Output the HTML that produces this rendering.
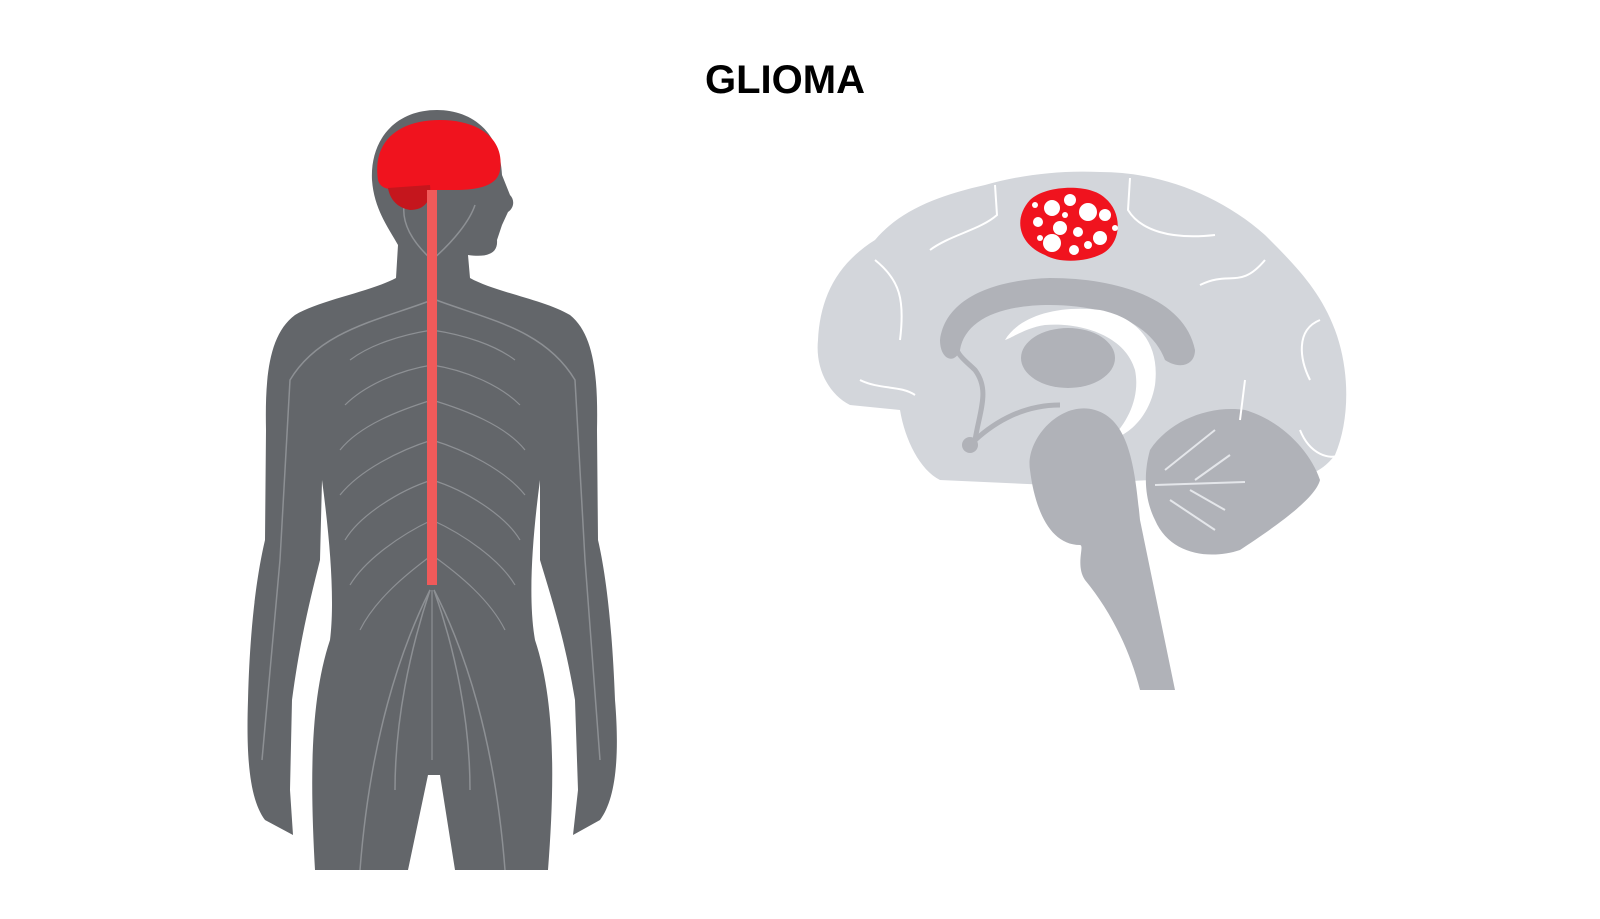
<!DOCTYPE html>
<html><head><meta charset="utf-8"><style>
html,body{margin:0;padding:0;background:#fff;width:1600px;height:919px;overflow:hidden}
svg{display:block}
</style></head><body>
<svg width="1600" height="919" viewBox="0 0 1600 919" xmlns="http://www.w3.org/2000/svg">
<text x="785" y="93" text-anchor="middle" font-family="Liberation Sans, sans-serif" font-weight="bold" font-size="40" fill="#000">GLIOMA</text>

<!-- Body -->
<path fill="#63666a" d="M437,110 C395,110 370,140 372,180 C374,210 390,230 398,245 L396,278 C370,292 320,300 295,315 C268,335 265,380 266,430 L265,540 C258,570 250,620 248,700 C246,760 250,800 265,820 L293,835 L290,790 L292,700 C300,640 310,600 320,560 L322,480 C330,540 335,600 330,640 C310,700 310,780 315,870 L408,870 L428,775 L440,775 L455,870 L548,870 C555,780 555,700 535,640 C528,600 532,540 540,480 L540,560 C552,600 565,640 575,700 L578,790 L573,835 L600,820 C615,800 620,760 615,700 C612,620 605,570 598,540 L597,430 C598,380 595,335 570,315 C545,300 495,292 470,278 L468,255 C490,258 498,252 497,240 L502,225 L508,212 C514,208 515,200 510,195 L502,175 C500,130 470,110 437,110 Z"/>
<!-- nerves -->
<g stroke="#8d9094" stroke-width="1.5" fill="none">
<path d="M432,300 C380,320 320,330 290,380 L280,560 L262,760"/>
<path d="M436,300 C490,320 545,330 575,380 L585,560 L600,760"/>
<path d="M430,590 C400,650 370,740 360,870"/>
<path d="M434,590 C465,650 495,740 505,870"/>
<path d="M430,590 C410,650 395,720 395,790"/>
<path d="M434,590 C455,650 470,720 470,790"/>
<path d="M432,260 C410,240 400,220 405,200"/>
<path d="M432,260 C455,240 470,220 475,205"/>
</g>
<g stroke="#8d9094" stroke-width="1.2" fill="none">
<path d="M432,330 C400,335 370,345 350,360"/><path d="M432,330 C465,335 495,345 515,360"/>
<path d="M432,365 C400,370 365,385 345,405"/><path d="M432,365 C465,370 500,385 520,405"/>
<path d="M432,400 C400,410 360,425 340,450"/><path d="M432,400 C465,410 505,425 525,450"/>
<path d="M432,440 C400,450 360,470 340,495"/><path d="M432,440 C465,450 505,470 525,495"/>
<path d="M432,480 C400,490 360,515 345,540"/><path d="M432,480 C465,490 505,515 520,540"/>
<path d="M432,520 C400,535 365,560 350,585"/><path d="M432,520 C465,535 500,560 515,585"/>
<path d="M432,555 C405,575 375,600 360,630"/><path d="M432,555 C460,575 490,600 505,630"/>
<path d="M432,590 L432,760"/>
</g>
<!-- brain red -->
<path fill="#f0131e" d="M378,180 C372,140 400,120 440,120 C480,120 505,140 500,170 C498,185 480,190 455,190 L400,190 C388,190 380,188 378,180 Z"/>
<path fill="#c5161d" d="M388,188 L430,185 C432,200 425,210 410,210 C398,208 390,200 388,188 Z"/>
<rect x="427" y="190" width="10" height="395" fill="#f05a5a"/>

<!-- Right brain -->
<path fill="#d3d6db" d="M875,240 C900,210 940,195 985,185 C1020,175 1060,170 1100,172 C1160,172 1220,195 1265,235 C1295,265 1320,290 1335,330 C1350,370 1350,420 1335,455 C1320,475 1300,478 1290,480 L1160,480 C1130,480 1090,485 1050,485 L940,480 C920,470 905,440 900,410 L850,405 C830,395 815,370 818,340 C820,300 835,265 875,240 Z"/>
<path fill="#b0b2b8" d="M940,340 C945,300 990,280 1050,278 C1120,278 1185,300 1195,350 C1195,365 1180,370 1165,360 C1150,320 1100,305 1050,305 C1000,305 965,320 960,350 C955,365 940,360 940,340 Z"/>
<path fill="#fff" d="M1005,340 C1020,315 1060,305 1100,310 C1140,318 1160,345 1155,385 C1150,415 1130,435 1110,440 C1130,420 1140,395 1135,370 C1125,335 1080,322 1045,325 C1025,328 1012,338 1005,340 Z"/>
<ellipse cx="1068" cy="358" rx="47" ry="30" fill="#b0b2b8"/>
<path fill="#b0b2b8" d="M1030,470 C1025,440 1060,400 1095,410 C1130,420 1135,470 1140,520 L1175,690 L1140,690 C1130,650 1110,610 1085,580 C1075,565 1085,545 1080,545 C1050,545 1035,510 1030,470 Z"/>
<path fill="#b0b2b8" d="M1150,450 C1170,420 1210,405 1245,410 C1280,420 1310,450 1320,480 C1315,500 1270,530 1240,550 C1210,560 1170,555 1155,520 C1145,500 1143,475 1150,450 Z"/>
<g stroke="#e4e6ea" stroke-width="2" fill="none">
<path d="M1155,485 L1245,482"/><path d="M1165,470 L1215,430"/><path d="M1170,500 L1215,530"/><path d="M1195,480 L1230,455"/><path d="M1190,490 L1225,510"/>
</g>
<g stroke="#fff" stroke-width="2" fill="none">
<path d="M995,185 L997,215 C980,230 950,235 930,250"/><path d="M1130,178 L1128,210 C1140,230 1170,240 1215,235"/>
<path d="M875,260 C900,280 905,300 900,340"/><path d="M1265,260 C1240,290 1230,270 1200,285"/>
<path d="M1320,320 C1295,330 1300,360 1310,380"/><path d="M860,380 C880,390 900,385 915,395"/>
<path d="M1245,380 L1240,420"/><path d="M1300,430 C1310,455 1330,460 1340,455"/>
</g>
<path d="M970,445 C990,425 1020,405 1060,405" stroke="#b0b2b8" stroke-width="5" fill="none"/>
<circle cx="970" cy="445" r="8" fill="#b0b2b8"/>
<path d="M975,440 C980,410 990,390 975,370 C965,360 955,355 955,340" stroke="#b0b2b8" stroke-width="5" fill="none"/>

<!-- tumor -->
<path fill="#f0131e" d="M1030,200 C1045,185 1090,183 1105,198 C1122,212 1122,240 1105,252 C1090,262 1060,264 1045,255 C1020,245 1012,220 1030,200 Z"/>
<g fill="#fff">
<circle cx="1052" cy="208" r="8"/><circle cx="1070" cy="200" r="6"/><circle cx="1088" cy="212" r="9"/><circle cx="1105" cy="215" r="6"/>
<circle cx="1038" cy="222" r="5"/><circle cx="1060" cy="228" r="7"/><circle cx="1078" cy="232" r="5"/><circle cx="1100" cy="238" r="7"/>
<circle cx="1052" cy="243" r="9"/><circle cx="1074" cy="250" r="5"/><circle cx="1088" cy="245" r="4"/><circle cx="1040" cy="238" r="3"/>
<circle cx="1065" cy="215" r="3"/><circle cx="1115" cy="228" r="3"/><circle cx="1035" cy="205" r="3"/>
</g>
</svg>
</body></html>
